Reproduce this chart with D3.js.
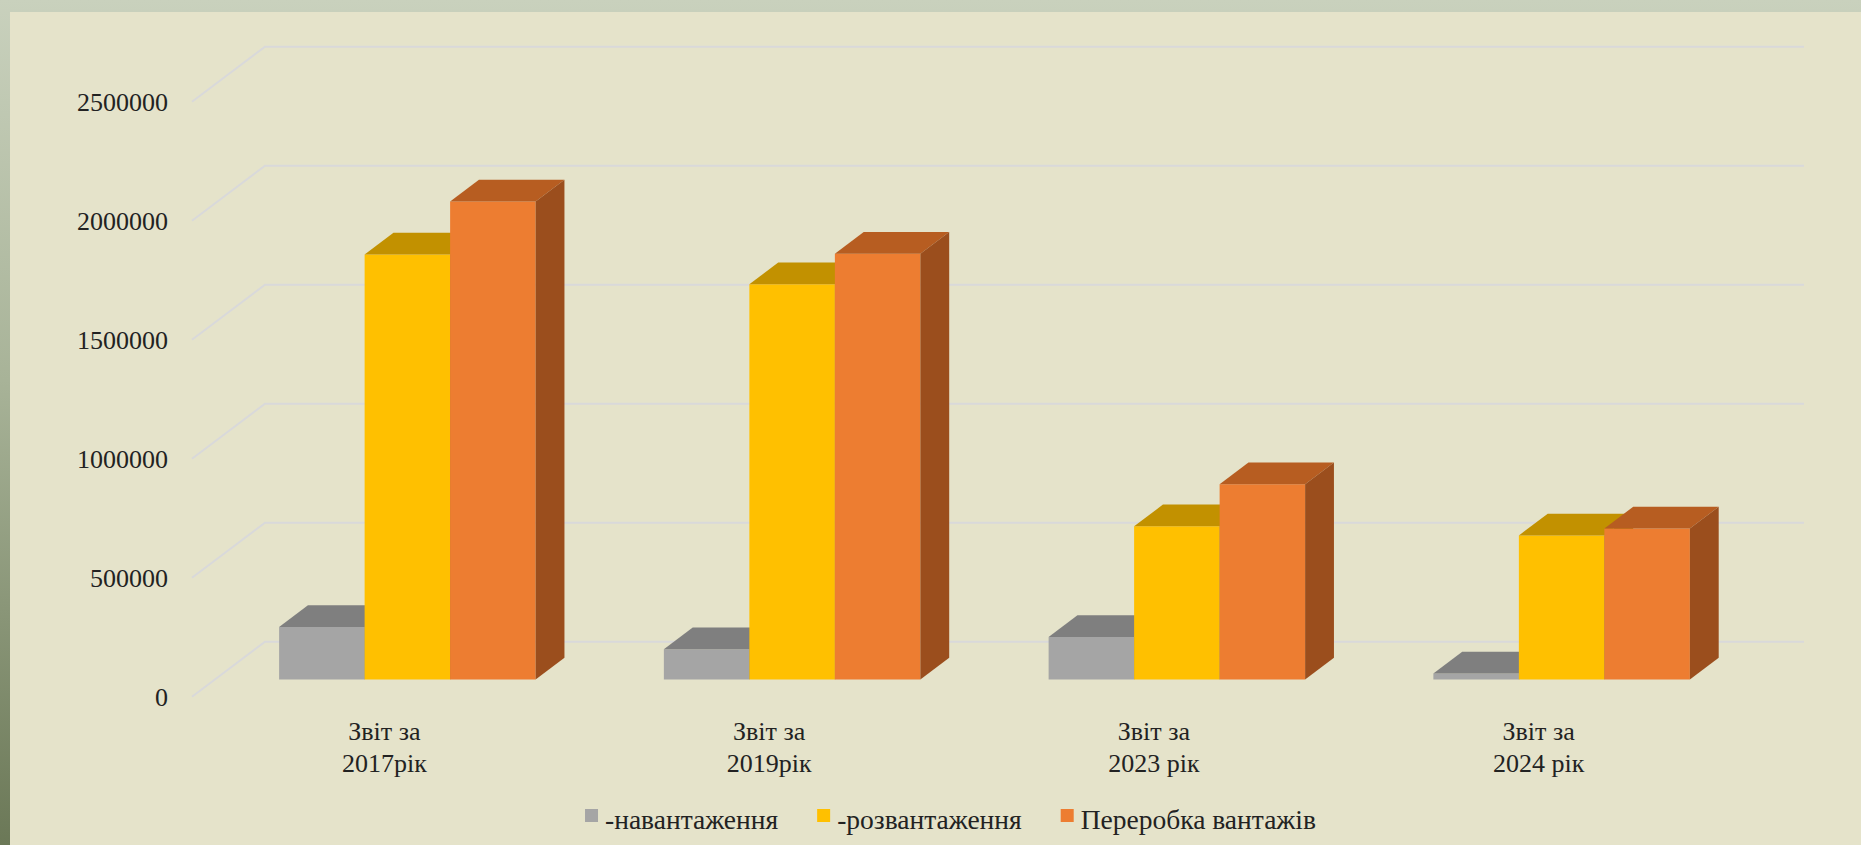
<!DOCTYPE html>
<html><head><meta charset="utf-8">
<script src="https://cdn.jsdelivr.net/npm/d3@7"></script>
<style>html,body{margin:0;padding:0;overflow:hidden;background:#e5e3ca}</style>
</head><body>
<svg id="chart" width="1861" height="845"></svg>
<script>
// ---- data ----
const categories = ["Звіт за\n2017рік", "Звіт за\n2019рік", "Звіт за\n2023 рік", "Звіт за\n2024 рік"];
const seriesNames = ["-навантаження", "-розвантаження", "Переробка вантажів"];
const loading    = [220000, 127000, 178000, 25000];
const unloading  = [1785000, 1660000, 643000, 605000];
const processing = [2008000, 1788000, 820000, 634000];
const yTicks = [0, 500000, 1000000, 1500000, 2000000, 2500000];

// ---- styles ----
const seriesValues = [loading, unloading, processing];
const frontColors = ["#a5a5a5", "#ffc000", "#ed7d31"];
const topColors   = ["#7f7f7f", "#c29100", "#b75d21"];
const sideColors  = ["#6f6f6f", "#a87e00", "#9b4e1d"];
const FONT = "'Liberation Serif', 'Times New Roman', serif";
const TEXT_COLOR = "#222222";

const W = 1861, H = 845;
const svg = d3.select("#chart");

// background frame
const defs = svg.append("defs");
const grad = defs.append("linearGradient").attr("id", "frameGrad")
  .attr("x1", 0).attr("y1", 0).attr("x2", 0).attr("y2", 1);
grad.append("stop").attr("offset", "0%").attr("stop-color", "#c9d1bd");
grad.append("stop").attr("offset", "45%").attr("stop-color", "#a8b398");
grad.append("stop").attr("offset", "100%").attr("stop-color", "#6b7857");
svg.append("rect").attr("width", W).attr("height", H).attr("fill", "url(#frameGrad)");
svg.append("rect").attr("x", 10).attr("y", 12).attr("width", W - 10).attr("height", H - 12)
  .attr("fill", "#e5e3ca");

// ---- 3D oblique geometry ----
const wallLeft = 265, wallRight = 1804;
const depthDX = -73, depthDY = 55;      // screen shift from back wall (z=0) to front (z=1)
const zBack = 0.29, zFront = 0.685;     // bar depth extent
const proj = (X, Y, z) => [X + depthDX * z, Y + depthDY * z];

const y = d3.scaleLinear().domain([0, 2500000]).range([641.7, 46.7]);
const x0 = d3.scaleBand().domain(d3.range(categories.length))
  .range([wallLeft, wallRight]).paddingInner(1 / 3).paddingOuter(1 / 6);
const x1 = d3.scaleBand().domain(d3.range(seriesNames.length)).range([0, x0.bandwidth()]);

// gridlines (side wall diagonal + back wall horizontal)
const grid = svg.append("g").attr("fill", "none").attr("stroke", "#d9d9da").attr("stroke-width", 2);
grid.selectAll("path").data(yTicks).join("path")
  .attr("d", t => {
    const p = d3.path();
    const f = proj(wallLeft, y(t), 1);
    p.moveTo(f[0], f[1]);
    p.lineTo(wallLeft, y(t));
    p.lineTo(wallRight, y(t));
    return p.toString();
  });

// y axis labels (front edge of side wall)
const yAxis = d3.axisLeft(y).tickValues(yTicks).tickSize(0).tickPadding(24)
  .tickFormat(d3.format("d"));
const yG = svg.append("g")
  .attr("transform", `translate(${wallLeft + depthDX},${depthDY})`)
  .call(yAxis);
yG.select(".domain").remove();
yG.selectAll("text").attr("font-family", FONT).attr("font-size", 26)
  .attr("fill", TEXT_COLOR).attr("dy", "0.33em");

// bars
const barData = [];
categories.forEach((c, i) => seriesValues.forEach((vals, s) => barData.push({ i, s, v: vals[i] })));
const poly = pts => "M" + pts.map(p => p.join(",")).join("L") + "Z";
const bars = svg.append("g").selectAll("g").data(barData).join("g");
bars.each(function (d) {
  const g = d3.select(this);
  const X = x0(d.i) + x1(d.s), w = x1.bandwidth();
  const yt = y(d.v), yb = y(0);
  g.append("path").attr("fill", frontColors[d.s]).attr("d", poly([
    proj(X, yt, zFront), proj(X + w, yt, zFront), proj(X + w, yb, zFront), proj(X, yb, zFront)]));
  g.append("path").attr("fill", topColors[d.s]).attr("d", poly([
    proj(X, yt, zFront), proj(X + w, yt, zFront), proj(X + w, yt, zBack), proj(X, yt, zBack)]));
  g.append("path").attr("fill", sideColors[d.s]).attr("d", poly([
    proj(X + w, yt, zFront), proj(X + w, yb, zFront), proj(X + w, yb, zBack), proj(X + w, yt, zBack)]));
});

// category axis (front edge of floor)
const xAxis = d3.axisBottom(x0).tickSize(0).tickFormat("");
const xG = svg.append("g")
  .attr("transform", `translate(${depthDX},${y(0) + depthDY})`)
  .call(xAxis);
xG.select(".domain").remove();
xG.selectAll(".tick text").each(function (d) {
  const t = d3.select(this).attr("y", 0).attr("dy", null)
    .attr("font-family", FONT).attr("font-size", 26).attr("fill", TEXT_COLOR);
  categories[d].split("\n").forEach((line, k) => {
    t.append("tspan").attr("x", 0).attr("y", 35 + k * 32).attr("dominant-baseline", "central").text(line);
  });
});

// legend
const legend = svg.append("g");
const items = legend.selectAll("g").data(seriesNames).join("g");
items.append("rect").attr("width", 13).attr("height", 13).attr("y", -7)
  .attr("fill", (d, i) => frontColors[i]);
items.append("text").attr("x", 20).attr("dominant-baseline", "central").attr("y", 3)
  .attr("font-family", FONT).attr("font-size", 27.5).attr("fill", TEXT_COLOR).text(d => d);
const widths = [];
items.each(function () {
  const tw = d3.select(this).select("text").node().getComputedTextLength();
  widths.push(20 + tw);
});
const gap = 39;
const total = d3.sum(widths) + gap * (widths.length - 1);
const startX = 950.5 - total / 2;
items.attr("transform", (d, i) => {
  const xPos = startX + d3.sum(widths.slice(0, i)) + gap * i;
  return `translate(${xPos},816)`;
});
</script>
</body></html>
